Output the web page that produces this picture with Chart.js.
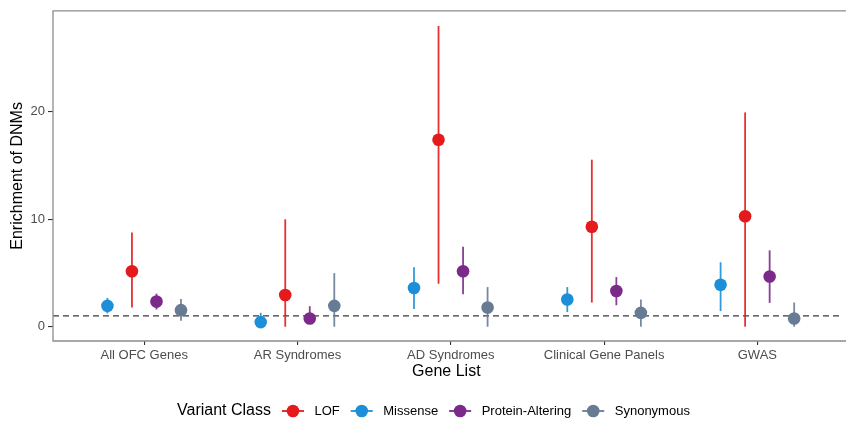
<!DOCTYPE html>
<html><head><meta charset="utf-8">
<script src="https://cdn.jsdelivr.net/npm/chart.js@4/dist/chart.umd.min.js"></script>
<style>html,body{margin:0;padding:0;background:#fff;overflow:hidden}</style>
</head><body>
<canvas id="c" width="846" height="423"></canvas>
<script>
// ---- data ----
const categories = ["All OFC Genes", "AR Syndromes", "AD Syndromes", "Clinical Gene Panels", "GWAS"];
const legendOrder = ["LOF", "Missense", "Protein-Altering", "Synonymous"];
const lofEst = [5.17, 2.95, 17.4, 9.3, 10.28];
const lofLo  = [1.79, 0.0, 4.0, 2.25, 0.0];
const lofHi  = [8.77, 10.0, 28.0, 15.55, 19.95];
const misEst = [1.94, 0.43, 3.6, 2.53, 3.91];
const misLo  = [1.24, 0.05, 1.66, 1.36, 1.45];
const misHi  = [2.68, 1.29, 5.54, 3.69, 6.0];
const paEst  = [2.34, 0.77, 5.17, 3.32, 4.68];
const paLo   = [1.6, 0.31, 3.02, 2.0, 2.22];
const paHi   = [3.08, 1.91, 7.45, 4.62, 7.11];
const synEst = [1.54, 1.94, 1.79, 1.29, 0.77];
const synLo  = [0.55, 0.0, 0.0, 0.0, 0.0];
const synHi  = [2.59, 4.99, 3.69, 2.53, 2.25];
const yTicks = [0, 10, 20];
const nullLine = 1;

// ---- styling ----
const colors = {"LOF": "#E41A1C", "Missense": "#1C8FD8", "Protein-Altering": "#7B2A8A", "Synonymous": "#677C94"};
const dodge = {"Missense": -0.24, "LOF": -0.08, "Protein-Altering": 0.08, "Synonymous": 0.24};
const FONT = "'Liberation Sans', Arial, Helvetica, sans-serif";

function mk(label, est, lo, hi) {
  return {
    label: label,
    data: est.map((v, i) => ({x: i + dodge[label], y: v, lo: lo[i], hi: hi[i]})),
    backgroundColor: colors[label],
    borderColor: colors[label],
    pointRadius: 6.3,
    pointBorderWidth: 0,
    showLine: false
  };
}
const datasets = [
  mk("Missense", misEst, misLo, misHi),
  mk("LOF", lofEst, lofLo, lofHi),
  mk("Protein-Altering", paEst, paLo, paHi),
  mk("Synonymous", synEst, synLo, synHi)
];

const panelPlugin = {
  id: 'panel',
  beforeDatasetsDraw(chart) {
    const ctx = chart.ctx, a = chart.chartArea, xs = chart.scales.x, ys = chart.scales.y;
    // reference line
    ctx.save();
    ctx.strokeStyle = '#3a3a3a';
    ctx.lineWidth = 1.2;
    ctx.setLineDash([6, 4]);
    const yy = ys.getPixelForValue(nullLine);
    ctx.beginPath(); ctx.moveTo(a.left, yy); ctx.lineTo(a.right, yy); ctx.stroke();
    ctx.restore();
    // error bars
    ctx.save();
    ctx.lineWidth = 1.8;
    ctx.globalAlpha = 0.9;
    chart.data.datasets.forEach(ds => {
      ctx.strokeStyle = ds.borderColor;
      ds.data.forEach(p => {
        const x = xs.getPixelForValue(p.x);
        ctx.beginPath();
        ctx.moveTo(x, ys.getPixelForValue(p.lo));
        ctx.lineTo(x, ys.getPixelForValue(p.hi));
        ctx.stroke();
      });
    });
    ctx.restore();
  },
  afterDatasetsDraw(chart) {
    const ctx = chart.ctx, a = chart.chartArea;
    ctx.save();
    ctx.strokeStyle = '#8c8c8c';
    ctx.lineWidth = 1.3;
    ctx.beginPath();
    ctx.moveTo(chart.width + 2, a.top);
    ctx.lineTo(a.left, a.top);
    ctx.lineTo(a.left, a.bottom);
    ctx.lineTo(chart.width + 2, a.bottom);
    ctx.stroke();
    ctx.restore();
  },
  afterDraw(chart) {
    const ctx = chart.ctx;
    ctx.save();
    const y = 411;
    ctx.textBaseline = 'middle';
    ctx.textAlign = 'left';
    ctx.fillStyle = '#000';
    ctx.font = '16px ' + FONT;
    let x = 177;
    ctx.fillText('Variant Class', x, y);
    x += ctx.measureText('Variant Class').width;
    ctx.font = '13px ' + FONT;
    legendOrder.forEach(name => {
      const cx = x + 22;
      ctx.strokeStyle = colors[name];
      ctx.fillStyle = colors[name];
      ctx.lineWidth = 1.8;
      ctx.beginPath(); ctx.moveTo(cx - 11, y); ctx.lineTo(cx + 11, y); ctx.stroke();
      ctx.beginPath(); ctx.arc(cx, y, 6.3, 0, Math.PI * 2); ctx.fill();
      ctx.fillStyle = '#000';
      const tx = cx + 21.5;
      ctx.fillText(name, tx, y);
      x = tx + ctx.measureText(name).width;
    });
    ctx.restore();
  }
};

new Chart(document.getElementById('c'), {
  type: 'scatter',
  data: {datasets},
  options: {
    responsive: false,
    animation: false,
    devicePixelRatio: 1,
    layout: {padding: {top: 9, right: 0, bottom: 0, left: 0}},
    plugins: {legend: {display: false}, tooltip: {enabled: false}},
    scales: {
      x: {
        type: 'linear',
        min: -0.595,
        max: 4.537,
        afterBuildTicks: s => { s.ticks = categories.map((c, i) => ({value: i})); },
        afterFit: s => { s.height = 82; },
        ticks: {
          callback: v => categories[v] !== undefined ? categories[v] : '',
          color: '#4D4D4D', font: {family: FONT, size: 13}, padding: 3,
          maxRotation: 0, autoSkip: false
        },
        grid: {drawOnChartArea: false, drawTicks: true, tickLength: 4, tickColor: '#333', lineWidth: 1.1},
        border: {display: false},
        title: {display: true, text: 'Gene List', color: '#000', font: {family: FONT, size: 16},
                padding: {top: 0, bottom: 41.4}}
      },
      y: {
        min: -1.33,
        max: 29.41,
        afterBuildTicks: s => { s.ticks = yTicks.map(v => ({value: v})); },
        afterFit: s => { s.width = 53; },
        ticks: {color: '#4D4D4D', font: {family: FONT, size: 13}, padding: 3},
        grid: {drawOnChartArea: false, drawTicks: true, tickLength: 5, tickColor: '#333', lineWidth: 1.1},
        border: {display: false},
        title: {display: true, text: 'Enrichment of DNMs', color: '#000', font: {family: FONT, size: 16},
                padding: {top: 8.4, bottom: 0}}
      }
    }
  },
  plugins: [panelPlugin]
});
</script>
</body></html>
